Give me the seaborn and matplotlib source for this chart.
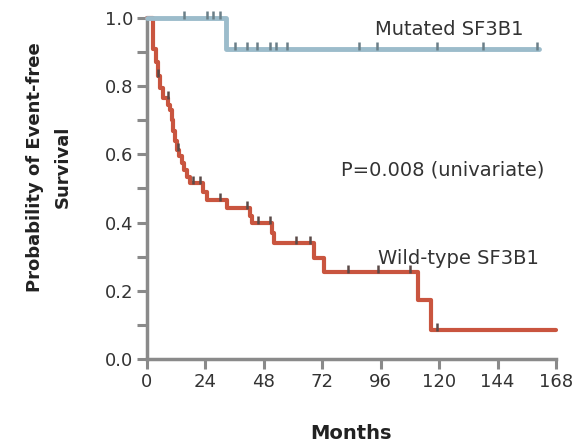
import numpy as np
import pandas as pd
import seaborn as sns
import matplotlib.pyplot as plt

# ---- data ----
months_ticks = [0, 24, 48, 72, 96, 120, 144, 168]
surv_ticks = [0.0, 0.2, 0.4, 0.6, 0.8, 1.0]

mut_time = [0, 32.5, 161]
mut_surv = [1.0, 0.909, 0.909]
mut_cens_time = [15, 24.5, 27, 30, 36, 41, 45, 50.6, 53, 57.5, 87, 94.5, 119, 138, 160]
mut_cens_surv = [1.0, 1.0, 1.0, 1.0, 0.909, 0.909, 0.909, 0.909, 0.909, 0.909,
                 0.909, 0.909, 0.909, 0.909, 0.909]

wt_time = [0, 2.6, 3.5, 4.5, 5.3, 6.5, 8.5, 9.5, 10.2, 10.8, 11.5, 12.2, 13.2,
           14.2, 15.3, 16.3, 17.7, 23.0, 24.8, 32.7, 42.4, 43.0, 51.5, 52.3,
           68.5, 72.5, 111.5, 116.5, 168]
wt_surv = [1.0, 0.91, 0.87, 0.83, 0.795, 0.765, 0.745, 0.73, 0.70, 0.67, 0.64,
           0.613, 0.595, 0.575, 0.555, 0.535, 0.516, 0.49, 0.466, 0.443, 0.42,
           0.40, 0.37, 0.34, 0.296, 0.255, 0.173, 0.085, 0.085]
wt_cens_time = [4.5, 8.7, 12.8, 19, 21.8, 30, 41, 45.6, 50.6, 61, 67, 82.7, 95, 108, 119]
wt_cens_surv = [0.83, 0.765, 0.613, 0.516, 0.516, 0.466, 0.443, 0.40, 0.40, 0.34,
                0.34, 0.255, 0.255, 0.255, 0.085]

mut_label = "Mutated SF3B1"
wt_label = "Wild-type SF3B1"
p_label = "P=0.008 (univariate)"

# ---- styling ----
sns.set_theme(style="ticks")
plt.rcParams['font.family'] = ['DejaVu Sans']

axis_grey = "#8a8a8a"
mut_color = "#9cbccb"
wt_color = "#c9553f"
text_color = "#333333"

fig = plt.figure(figsize=(5.76, 4.44), dpi=100)
ax = fig.add_axes([147/576, 1 - 359/444, (556 - 147)/576, (359 - 18)/444])

sns.lineplot(x=wt_time, y=wt_surv, drawstyle="steps-post", estimator=None,
             sort=False, color=wt_color, lw=3, ax=ax, clip_on=False, zorder=3)
sns.lineplot(x=mut_time, y=mut_surv, drawstyle="steps-post", estimator=None,
             sort=False, color=mut_color, lw=3.5, ax=ax, clip_on=False, zorder=4)

sns.scatterplot(x=wt_cens_time, y=[s + 0.008 for s in wt_cens_surv], marker="|",
                s=28, color="#5a4a48", linewidth=1.8, ax=ax, clip_on=False, zorder=5)
sns.scatterplot(x=mut_cens_time, y=[s + 0.008 for s in mut_cens_surv], marker="|",
                s=28, color="#6a7f88", linewidth=1.8, ax=ax, clip_on=False, zorder=5)

ax.set_xlim(0, 168)
ax.set_ylim(0, 1.0)
ax.set_xticks(months_ticks)
ax.set_xticklabels([str(m) for m in months_ticks])
ax.set_yticks(surv_ticks)
ax.set_yticklabels([f"{v:.1f}" for v in surv_ticks])
ax.set_yticks([0.1, 0.3, 0.5, 0.7, 0.9], minor=True)

sns.despine(ax=ax)
for side in ["left", "bottom"]:
    ax.spines[side].set_color(axis_grey)
    ax.spines[side].set_linewidth(2.5)
ax.tick_params(which="both", direction="out", length=7, width=2.2,
               color=axis_grey, labelsize=13, labelcolor=text_color, pad=3)

ax.text(93.5, 0.965, mut_label, fontsize=14, color=text_color, ha="left", va="center")
ax.text(79.5, 0.554, p_label, fontsize=14, color=text_color, ha="left", va="center")
ax.text(95, 0.296, wt_label, fontsize=14, color=text_color, ha="left", va="center")

ax.set_xlabel("Months", fontsize=14, fontweight="bold", color="#222222", labelpad=24)
ax.set_ylabel("Probability of Event-free\nSurvival", fontsize=13, fontweight="bold",
              color="#222222", multialignment="center", linespacing=1.7)
ax.yaxis.set_label_coords(-0.183, 0.563)

fig.savefig("out.png", dpi=100)
